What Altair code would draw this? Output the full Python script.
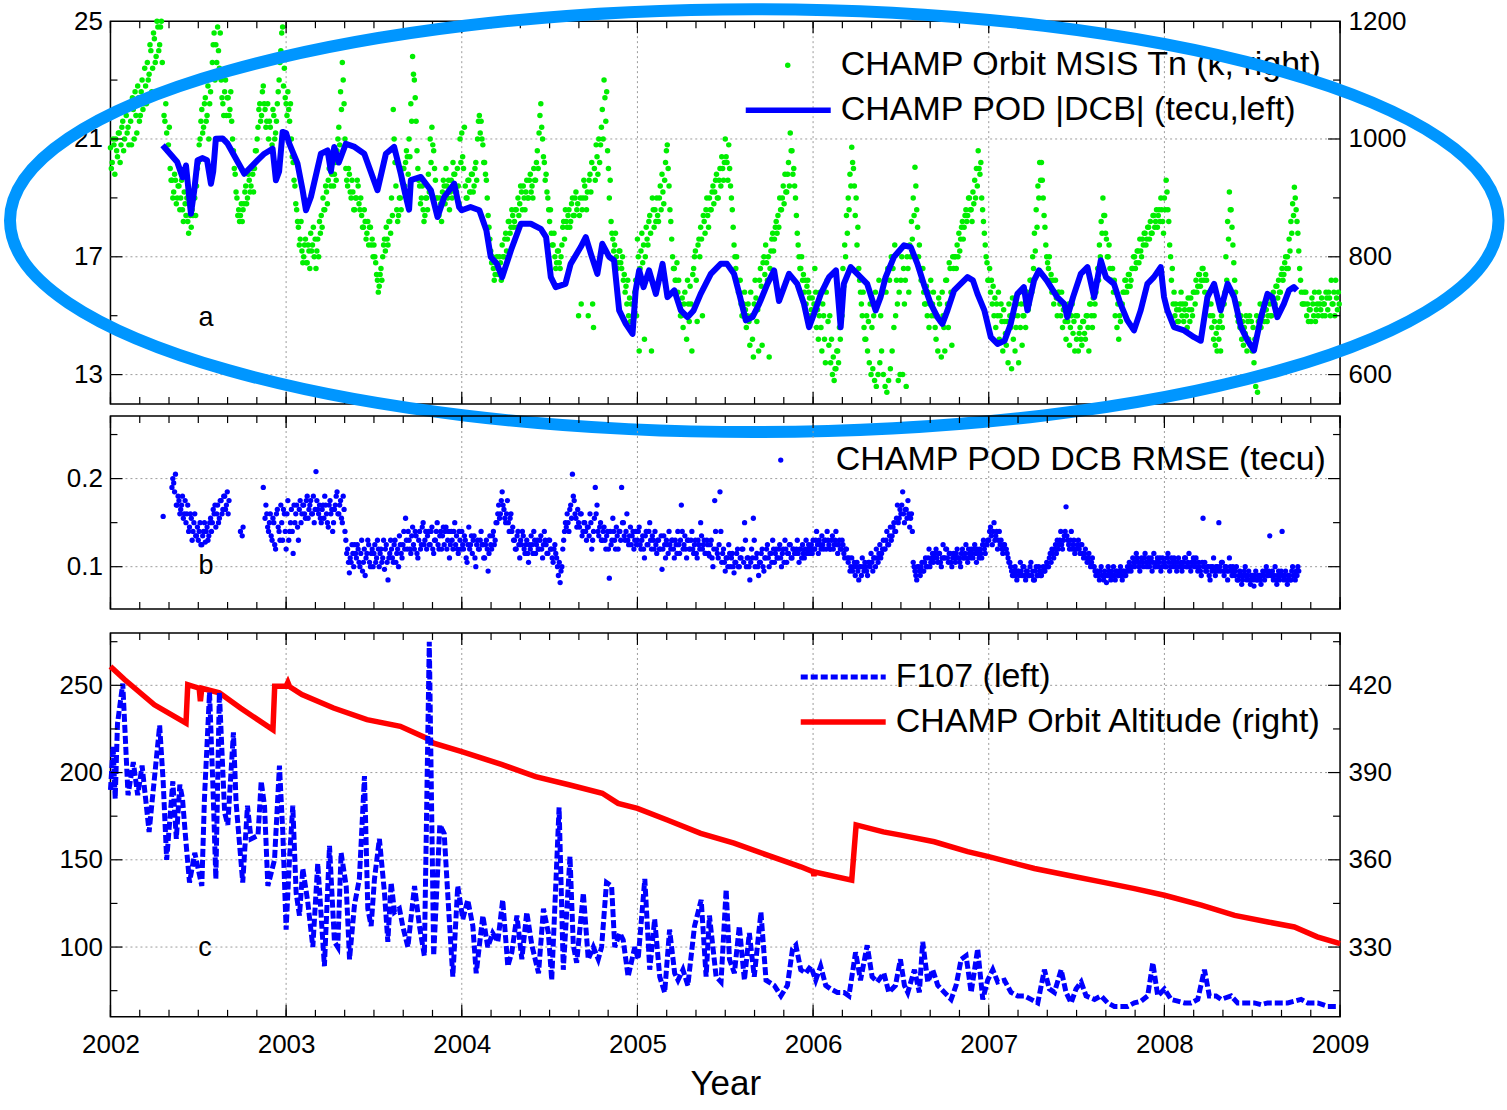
import altair as alt
import numpy as np
import pandas as pd

FONT = "Liberation Sans"
W = 1230
H_A, H_B, H_C = 383, 193, 384
GAP_BC = 12  # extra room below panel b

BLUE = "#0000ff"
GREEN = "#00ee00"
RED = "#ff0000"
RING = "#0096ff"
GRID = "#9b9b9b"

# ---------------------------------------------------------------- axes
YEARS = list(range(2002, 2010))
MONTH_TICKS = [round(2002 + k / 6, 4) for k in range(43)]  # bimonthly minor ticks

A_LEFT_DOMAIN = [12, 25]
A_LEFT_LABELS = [13, 17, 21, 25]
A_GRID = [13, 17, 21]
A_MINOR = [15, 19, 23]
A_RIGHT_DOMAIN = [550, 1200]
A_RIGHT_LABELS = [600, 800, 1000, 1200]

B_DOMAIN = [0.052, 0.271]
B_LABELS = [0.1, 0.2]
B_MINOR = [0.15, 0.25]

C_LEFT_DOMAIN = [60, 280]
C_LEFT_LABELS = [100, 150, 200, 250]
C_MINOR = [75, 125, 175, 225, 275]
C_RIGHT_DOMAIN = [306, 438]
C_RIGHT_LABELS = [330, 360, 390, 420]

# ---------------------------------------------------------------- panel a data
# MSIS neutral temperature along the CHAMP orbit (K): two samples per 0.01 yr step
# from 2002.0 (first sample at the step, second half a step later)
TN_START, TN_STEP = 2002.0, 0.01
TN_K = [
    985, 960, 990, 1000, 970, 1010, 990, 1030, 1000, 1040,
    1020, 1060, 990, 1050, 1080, 1010, 1070, 1040, 1100, 1060,
    1090, 1130, 1110, 1150, 1120, 1170, 1140, 1190, 1160, 1200,
    1080, 1030, 1010, 990, 950, 930, 910, 930, 900, 920,
    900, 880, 910, 870, 860, 890, 850, 870, 900, 920,
    960, 1000, 1050, 1020, 1070, 1040, 1000, 1080, 1130, 1180,
    1160, 1190, 1120, 1100, 1060, 1080, 1040, 1070, 1050, 1030,
    980, 940, 900, 880, 870, 860, 890, 920, 900, 930,
    920, 940, 950, 980, 1020, 1060, 1040, 1090, 1050, 1030,
    1000, 1020, 990, 1040, 1010, 1060, 1100, 1150, 1190, 1120,
    1060, 1080, 1030, 1000, 960, 920, 880, 850, 830, 810,
    800, 830, 790, 810, 840, 820, 800, 780, 830, 860,
    870, 900, 880, 910, 930, 950, 940, 920, 960, 980,
    1020, 1080, 1130, 1060, 950, 920, 940, 900, 910, 880,
    900, 920, 880, 870, 850, 860, 840, 820, 850, 830,
    820, 790, 760, 750, 780, 800, 830, 850, 820, 860,
    900, 1050, 960, 880, 870, 900, 930, 950, 960, 970,
    1000, 1060, 1140, 1100, 1030, 950, 920, 900, 880, 870,
    900, 940, 1000, 1020, 980, 930, 900, 870, 890, 910,
    920, 950, 900, 880, 930, 960, 940, 910, 920, 1000,
    1010, 950, 920, 900, 930, 910, 940, 920, 960, 1000,
    1040, 1030, 990, 960, 930, 870, 830, 790, 780, 770,
    800, 770, 790, 820, 800, 840, 830, 860, 850, 870,
    860, 880, 900, 890, 910, 920, 880, 930, 900, 940,
    920, 950, 930, 980, 1010, 1060, 1000, 960, 940, 900,
    860, 840, 820, 800, 790, 810, 780, 820, 860, 880,
    850, 880, 860, 900, 870, 910, 890, 870, 720, 900,
    920, 880, 700, 940, 960, 680, 930, 970, 1000, 990,
    1050, 1100, 1030, 980, 900, 860, 830, 820, 800, 790,
    810, 780, 760, 740, 720, 700, 690, 680, 720, 760,
    830, 640, 810, 790, 660, 850, 820, 870, 640, 880,
    880, 900, 860, 920, 940, 890, 960, 990, 920, 860,
    800, 780, 760, 740, 720, 700, 680, 740, 660, 720,
    750, 640, 780, 810, 690, 830, 850, 700, 860, 880,
    870, 900, 880, 920, 910, 940, 900, 950, 970, 930,
    1000, 960, 990, 920, 880, 820, 780, 760, 740, 720,
    700, 740, 680, 720, 650, 700, 630, 760, 690, 640,
    780, 650, 800, 820, 760, 630, 810, 840, 830, 860,
    870, 900, 880, 920, 940, 910, 960, 1010, 980, 950,
    900, 840, 800, 780, 760, 740, 720, 760, 730, 710,
    700, 780, 680, 660, 740, 640, 700, 620, 760, 650,
    620, 600, 590, 610, 640, 680, 720, 780, 820, 870,
    900, 940, 986, 950, 870, 820, 780, 740, 700, 680,
    660, 640, 620, 600, 610, 590, 580, 600, 620, 640,
    600, 580, 570, 590, 610, 640, 680, 700, 720, 740,
    760, 600, 720, 580, 780, 820, 860, 900, 952, 880,
    800, 780, 760, 740, 720, 700, 680, 760, 720, 700,
    660, 640, 720, 630, 700, 640, 760, 680, 780, 650,
    780, 800, 820, 840, 830, 860, 850, 880, 870, 900,
    880, 910, 930, 950, 980, 940, 900, 860, 820, 790,
    760, 740, 720, 700, 680, 700, 660, 720, 640, 690,
    650, 620, 700, 610, 660, 640, 720, 620, 680, 650,
    700, 680, 740, 720, 760, 800, 840, 880, 920, 960,
    960, 900, 850, 800, 780, 760, 740, 720, 760, 700,
    740, 700, 680, 720, 660, 690, 650, 700, 670, 640,
    660, 640, 680, 650, 690, 660, 700, 640, 720, 680,
    700, 740, 780, 820, 860, 900, 870, 830, 800, 780,
    760, 740, 700, 680, 660, 690, 720, 740, 760, 750,
    770, 760, 780, 800, 790, 810, 830, 800, 820, 840,
    830, 850, 860, 840, 870, 860, 850, 880, 900, 860,
    900, 930, 880, 820, 760, 720, 700, 710, 690, 720,
    700, 690, 720, 680, 710, 730, 700, 740, 760, 750,
    770, 760, 780, 740, 760, 720, 700, 680, 660, 650,
    640, 660, 640, 680, 720, 800, 860, 910, 880, 820,
    760, 720, 690, 680, 660, 650, 670, 640, 660, 650,
    640, 620, 580, 570, 600, 680, 700, 690, 710, 700,
    720, 700, 740, 720, 750, 760, 740, 780, 770, 800,
    800, 830, 860, 890, 918, 880, 840, 780, 740, 720,
    720, 700, 690, 710, 730, 700, 690, 720, 740, 710,
    700, 720, 740, 710, 730, 760, 720, 700, 730, 740,
]
TN_K_HALF = [
    950, 1000, 940, 980, 1010, 960, 1020, 980, 1050, 1010,
    990, 1030, 1070, 1000, 1040, 1090, 1030, 1080, 1050, 1120,
    1060, 1100, 1160, 1080, 1180, 1130, 1200, 1150, 1190, 1130,
    1040, 1060, 980, 1020, 930, 900, 940, 890, 920, 880,
    930, 860, 890, 900, 840, 870, 880, 900, 870, 950,
    990, 1030, 1010, 1060, 1030, 1090, 1060, 1110, 1160, 1100,
    1130, 1150, 1180, 1070, 1040, 1100, 1070, 1040, 1080, 1000,
    950, 910, 870, 860, 890, 880, 910, 890, 940, 910,
    950, 910, 980, 1000, 1050, 1030, 1080, 1060, 1020, 1060,
    1030, 980, 1050, 1000, 1030, 1080, 1130, 1180, 1090, 1070,
    1040, 1050, 1060, 970, 930, 890, 860, 820, 860, 790,
    820, 790, 820, 780, 810, 850, 830, 810, 800, 840,
    850, 880, 920, 890, 950, 920, 960, 940, 930, 1000,
    990, 1050, 1100, 1000, 930, 950, 910, 930, 880, 900,
    930, 890, 900, 850, 880, 830, 860, 850, 820, 800,
    800, 770, 740, 770, 760, 820, 810, 830, 860, 840,
    870, 1000, 920, 860, 900, 880, 950, 920, 980, 940,
    970, 1030, 1110, 1070, 980, 930, 890, 920, 860, 900,
    880, 910, 960, 990, 950, 900, 880, 900, 860, 930,
    890, 920, 930, 910, 900, 940, 910, 950, 890, 960,
    970, 1020, 900, 930, 910, 940, 910, 950, 930, 1030,
    1010, 1000, 960, 940, 900, 850, 810, 800, 760, 790,
    780, 800, 760, 800, 830, 810, 860, 840, 880, 850,
    880, 850, 870, 920, 880, 900, 910, 900, 930, 910,
    900, 930, 960, 950, 1040, 1020, 970, 930, 910, 880,
    880, 820, 840, 780, 810, 790, 800, 850, 830, 860,
    870, 850, 890, 870, 900, 880, 700, 900, 880, 930,
    900, 910, 930, 910, 720, 950, 990, 940, 960, 1020,
    1000, 1070, 1080, 950, 930, 840, 810, 840, 780, 810,
    790, 800, 770, 750, 760, 730, 720, 700, 740, 700,
    800, 780, 840, 820, 800, 830, 860, 840, 900, 850,
    860, 870, 900, 880, 910, 930, 980, 950, 880, 830,
    780, 760, 790, 760, 700, 730, 720, 700, 760, 690,
    720, 770, 800, 760, 820, 800, 830, 870, 840, 900,
    850, 880, 910, 890, 930, 900, 930, 920, 950, 960,
    970, 930, 950, 900, 850, 800, 800, 740, 760, 700,
    720, 710, 700, 690, 740, 660, 720, 730, 710, 760,
    750, 790, 770, 790, 800, 780, 830, 810, 850, 840,
    850, 880, 900, 890, 910, 940, 920, 980, 940, 920,
    870, 820, 780, 800, 770, 760, 750, 740, 700, 730,
    720, 740, 710, 700, 680, 720, 660, 740, 690, 700,
    660, 630, 610, 640, 620, 660, 700, 750, 800, 840,
    880, 920, 960, 920, 900, 850, 760, 720, 740, 660,
    700, 690, 720, 680, 700, 740, 720, 760, 700, 740,
    760, 740, 780, 760, 800, 780, 820, 760, 590, 600,
    800, 780, 760, 800, 740, 800, 830, 870, 920, 850,
    820, 760, 780, 720, 750, 740, 720, 700, 740, 680,
    700, 730, 690, 740, 680, 760, 720, 790, 740, 800,
    800, 780, 800, 810, 850, 830, 870, 860, 900, 880,
    860, 890, 900, 920, 950, 960, 880, 840, 800, 760,
    780, 760, 750, 730, 720, 740, 700, 690, 710, 670,
    690, 720, 680, 730, 700, 680, 700, 740, 720, 700,
    720, 740, 710, 760, 740, 780, 810, 850, 900, 930,
    930, 870, 820, 790, 800, 770, 760, 740, 730, 740,
    720, 740, 710, 690, 700, 720, 680, 720, 690, 700,
    700, 670, 660, 690, 670, 700, 680, 720, 700, 730,
    720, 760, 760, 800, 840, 870, 840, 800, 820, 760,
    780, 760, 740, 720, 700, 720, 740, 760, 740, 770,
    750, 780, 800, 780, 810, 790, 810, 830, 840, 820,
    850, 830, 840, 870, 850, 880, 870, 860, 880, 840,
    880, 910, 860, 800, 780, 740, 720, 690, 710, 740,
    720, 710, 700, 730, 690, 710, 740, 720, 740, 770,
    750, 780, 760, 770, 730, 740, 720, 700, 690, 670,
    680, 690, 700, 720, 740, 760, 830, 880, 850, 790,
    740, 700, 720, 700, 690, 680, 700, 690, 700, 690,
    680, 660, 700, 690, 720, 700, 720, 710, 690, 730,
    700, 730, 720, 750, 730, 740, 770, 760, 790, 780,
    780, 810, 840, 870, 900, 860, 810, 760, 720, 740,
    740, 720, 710, 690, 720, 740, 710, 700, 720, 730,
    720, 700, 730, 740, 700, 720, 740, 760, 710, 720,
]

# absolute differential code bias from CHAMP POD (TECU)
DCB_YEAR = [
    2002.297, 2002.38, 2002.41, 2002.43, 2002.458, 2002.477, 2002.496, 2002.525, 2002.55, 2002.572,
    2002.585, 2002.60, 2002.638, 2002.667, 2002.762, 2002.838, 2002.876, 2002.923, 2002.942, 2002.96,
    2002.98, 2003.0, 2003.018, 2003.065, 2003.094, 2003.113, 2003.141, 2003.198, 2003.236, 2003.255,
    2003.274, 2003.30, 2003.34, 2003.39, 2003.445, 2003.52, 2003.568, 2003.615, 2003.653, 2003.682,
    2003.70, 2003.71, 2003.767, 2003.824, 2003.862, 2003.90, 2003.957, 2003.985, 2004.0, 2004.05,
    2004.10, 2004.14, 2004.165, 2004.20, 2004.23, 2004.28, 2004.336, 2004.393, 2004.45, 2004.48,
    2004.507, 2004.535, 2004.59, 2004.62, 2004.677, 2004.706, 2004.735, 2004.772, 2004.80, 2004.84,
    2004.867, 2004.896, 2004.934, 2004.972, 2004.99, 2005.01, 2005.035, 2005.066, 2005.105, 2005.143,
    2005.171, 2005.21, 2005.247, 2005.285, 2005.32, 2005.36, 2005.418, 2005.474, 2005.51, 2005.55,
    2005.58, 2005.617, 2005.655, 2005.693, 2005.74, 2005.778, 2005.806, 2005.835, 2005.863, 2005.91,
    2005.948, 2005.977, 2006.005, 2006.044, 2006.091, 2006.13, 2006.157, 2006.175, 2006.214, 2006.27,
    2006.308, 2006.356, 2006.384, 2006.413, 2006.46, 2006.518, 2006.556, 2006.594, 2006.63, 2006.67,
    2006.708, 2006.736, 2006.765, 2006.803, 2006.84, 2006.879, 2006.91, 2006.936, 2006.975, 2007.012,
    2007.05, 2007.09, 2007.125, 2007.163, 2007.20, 2007.22, 2007.258, 2007.286, 2007.33, 2007.39,
    2007.43, 2007.447, 2007.48, 2007.524, 2007.562, 2007.60, 2007.638, 2007.667, 2007.713, 2007.75,
    2007.789, 2007.827, 2007.865, 2007.903, 2007.94, 2007.979, 2007.998, 2008.017, 2008.055, 2008.112,
    2008.169, 2008.207, 2008.245, 2008.283, 2008.32, 2008.36, 2008.397, 2008.436, 2008.473, 2008.51,
    2008.55, 2008.587, 2008.615, 2008.643, 2008.68, 2008.709, 2008.737, 2008.755,
]
DCB_TECU = [
    20.79, 20.22, 19.7, 20.1, 18.46, 19.26, 20.28, 20.35, 20.28, 19.48,
    19.9, 21.01, 21.02, 20.84, 19.82, 20.28, 20.5, 20.67, 19.6, 19.9,
    21.24, 21.2, 20.84, 20.16, 19.26, 18.58, 19.03, 20.5, 20.61, 19.9,
    20.73, 20.2, 20.84, 20.73, 20.5, 19.26, 20.5, 20.73, 19.82, 19.03,
    18.6, 19.6, 19.71, 19.26, 18.35, 19.03, 19.48, 18.69, 18.58, 18.69,
    18.58, 17.9, 16.99, 16.76, 16.31, 17.22, 18.12, 18.12, 17.95, 17.67,
    16.31, 15.97, 16.08, 16.76, 17.33, 17.67, 17.1, 16.42, 17.44, 16.99,
    16.88, 15.18, 14.72, 14.38, 15.86, 16.54, 15.97, 16.54, 15.74, 16.76,
    15.63, 15.86, 15.18, 14.95, 15.18, 15.74, 16.42, 16.76, 16.76, 16.42,
    15.74, 14.84, 14.95, 15.4, 16.08, 16.54, 15.5, 15.97, 16.42, 16.08,
    15.4, 14.61, 15.06, 15.74, 16.31, 16.54, 14.61, 16.08, 16.65, 16.31,
    16.08, 15.18, 15.63, 16.31, 16.99, 17.39, 17.33, 16.76, 16.08, 15.4,
    14.95, 14.72, 15.18, 15.86, 16.08, 16.31, 16.2, 15.74, 15.18, 14.27,
    14.04, 14.15, 14.72, 15.74, 15.97, 15.18, 16.2, 16.54, 16.2, 15.63,
    15.4, 14.95, 15.63, 16.42, 16.65, 15.63, 16.88, 16.31, 16.08, 15.4,
    14.84, 14.5, 15.18, 16.08, 16.31, 16.65, 15.63, 15.18, 14.61, 14.5,
    14.27, 14.15, 15.63, 16.08, 15.18, 16.08, 15.63, 14.61, 14.16, 13.82,
    14.95, 15.74, 15.63, 14.95, 15.4, 15.86, 15.97, 15.86,
]

# ---------------------------------------------------------------- panel b data
# DCB fit RMSE (TECU): two samples per 0.01 yr step from 2002.30 (None = no solution)
RMSE_START, RMSE_STEP = 2002.30, 0.01
RMSE_TECU = [
    0.157, None, None, None, None, 0.19, 0.195, 0.205, 0.17, 0.175,
    0.165, 0.18, 0.16, 0.15, 0.17, 0.145, 0.155, 0.14, 0.16, 0.135,
    0.13, 0.15, 0.125, 0.14, 0.128, 0.145, 0.135, 0.155, 0.15, 0.16,
    0.145, 0.17, 0.155, 0.175, 0.165, 0.18, 0.17, 0.16, None, None,
    None, None, None, None, 0.14, 0.135, None, None, None, None,
    None, None, None, None, None, None, None, 0.19, 0.155, 0.16,
    0.14, 0.16, 0.13, 0.15, 0.12, 0.165, 0.14, 0.17, 0.13, 0.16,
    0.12, 0.175, 0.14, 0.165, 0.115, 0.15, 0.17, 0.13, 0.175, 0.16,
    0.17, 0.155, 0.18, 0.165, 0.175, 0.16, 0.15, 0.208, 0.165, 0.17,
    0.15, 0.17, 0.18, 0.16, 0.145, 0.175, 0.165, 0.15, 0.17, 0.185,
    0.16, 0.175, 0.15, 0.165, 0.13, 0.12, 0.093, 0.105, 0.115, 0.125,
    0.11, 0.12, 0.1, 0.13, 0.105, 0.09, 0.115, 0.125, 0.1, 0.12,
    0.115, 0.105, 0.13, 0.1, 0.12, 0.11, 0.097, 0.125, 0.085, 0.115,
    0.12, 0.105, 0.13, 0.115, 0.1, 0.125, 0.11, 0.14, 0.155, 0.12,
    0.13, 0.115, 0.145, 0.12, 0.135, 0.11, 0.14, 0.125, 0.15, 0.13,
    0.12, 0.14, 0.125, 0.145, 0.115, 0.13, 0.15, 0.12, 0.14, 0.135,
    0.125, 0.145, 0.13, 0.11, 0.14, 0.12, 0.15, 0.135, 0.115, 0.13,
    0.14, 0.12, 0.13, 0.105, 0.145, 0.125, 0.115, 0.135, 0.1, 0.13,
    0.12, 0.14, 0.125, 0.11, 0.13, 0.095, 0.135, 0.12, 0.14, 0.13,
    0.15, 0.17, 0.16, 0.185, 0.165, 0.15, 0.175, 0.14, 0.16, 0.145,
    0.13, 0.12, 0.14, 0.11, 0.125, 0.135, 0.115, 0.13, 0.105, 0.12,
    0.125, 0.14, 0.115, 0.13, 0.12, 0.135, 0.11, 0.14, 0.125, 0.115,
    0.13, 0.12, 0.105, 0.125, 0.11, 0.09, 0.082, 0.1, 0.13, 0.15,
    0.16, 0.14, 0.17, 0.205, 0.175, 0.155, 0.165, 0.145, 0.16, 0.14,
    0.15, 0.13, 0.145, 0.16, 0.12, 0.14, 0.19, 0.17, 0.135, 0.15,
    0.13, 0.145, 0.12, 0.14, 0.087, 0.125, 0.155, 0.13, 0.145, 0.12,
    0.14, 0.19, 0.15, 0.13, 0.16, 0.125, 0.145, 0.135, 0.12, 0.14,
    0.13, 0.145, 0.12, 0.135, 0.11, 0.14, 0.125, 0.15, 0.12, 0.13,
    0.14, 0.115, 0.13, 0.12, 0.097, 0.135, 0.11, 0.125, 0.14, 0.12,
    0.13, 0.11, 0.125, 0.14, 0.115, 0.17, 0.12, 0.135, 0.11, 0.13,
    0.12, 0.14, 0.115, 0.13, 0.11, 0.125, 0.15, 0.12, 0.13, 0.115,
    0.125, 0.112, 0.13, 0.1, 0.175, 0.12, 0.11, 0.185, 0.105, 0.12,
    0.095, 0.11, 0.125, 0.1, 0.115, 0.093, 0.105, 0.12, 0.1, 0.11,
    0.12, 0.15, 0.1, 0.11, 0.085, 0.12, 0.155, 0.1, 0.115, 0.09,
    0.105, 0.12, 0.095, 0.11, 0.125, 0.1, 0.115, 0.13, 0.105, 0.12,
    0.11, 0.125, 0.1, 0.12, 0.13, 0.105, 0.115, 0.125, 0.11, 0.12,
    0.115, 0.13, 0.105, 0.12, 0.125, 0.11, 0.13, 0.12, 0.115, 0.125,
    0.13, 0.12, 0.14, 0.115, 0.125, 0.135, 0.12, 0.13, 0.14, 0.125,
    0.12, 0.135, 0.125, 0.14, 0.115, 0.13, 0.12, 0.125, 0.11, 0.12,
    0.105, 0.095, 0.11, 0.1, 0.09, 0.105, 0.085, 0.1, 0.11, 0.095,
    0.1, 0.09, 0.105, 0.115, 0.095, 0.11, 0.12, 0.105, 0.125, 0.115,
    0.13, 0.12, 0.14, 0.125, 0.145, 0.135, 0.15, 0.14, 0.17, 0.155,
    0.16, 0.185, 0.15, 0.165, 0.175, 0.145, 0.16, 0.105, 0.095, 0.085,
    0.1, 0.09, 0.105, 0.095, 0.11, 0.1, 0.12, 0.105, 0.115, 0.11,
    0.12, 0.105, 0.115, 0.1, 0.125, 0.11, 0.12, 0.105, 0.115, 0.1,
    0.115, 0.105, 0.12, 0.11, 0.1, 0.12, 0.11, 0.125, 0.105, 0.115,
    0.12, 0.11, 0.125, 0.105, 0.115, 0.12, 0.11, 0.13, 0.115, 0.125,
    0.13, 0.145, 0.125, 0.15, 0.135, 0.12, 0.14, 0.13, 0.115, 0.125,
    0.12, 0.11, 0.105, 0.095, 0.09, 0.1, 0.085, 0.095, 0.105, 0.09,
    0.1, 0.085, 0.095, 0.09, 0.105, 0.095, 0.085, 0.1, 0.09, 0.095,
    0.09, 0.1, 0.095, 0.105, 0.1, 0.115, 0.12, 0.11, 0.125, 0.13,
    0.125, 0.14, 0.12, 0.135, 0.168, 0.13, 0.12, 0.14, 0.125, 0.115,
    0.12, 0.13, 0.115, 0.125, 0.11, 0.12, 0.105, 0.115, 0.1, 0.11,
    0.1, 0.09, 0.095, 0.085, 0.1, 0.09, 0.095, 0.082, 0.1, 0.09,
    0.095, 0.1, 0.085, 0.095, 0.09, 0.1, 0.085, 0.095, 0.09, 0.1,
    0.105, 0.095, 0.11, 0.1, 0.115, 0.105, 0.095, 0.11, 0.1, 0.115,
    0.1, 0.11, 0.105, 0.095, 0.115, 0.1, 0.11, 0.105, 0.095, 0.11,
    0.105, 0.1, 0.115, 0.095, 0.11, 0.1, 0.105, 0.095, 0.11, 0.1,
    0.095, 0.105, 0.11, 0.1, 0.115, 0.095, 0.105, 0.1, 0.11, 0.095,
    0.1, 0.09, 0.155, 0.105, 0.095, 0.1, 0.085, 0.095, 0.11, 0.09,
    0.1, 0.15, 0.095, 0.105, 0.09, 0.1, 0.085, 0.11, 0.095, 0.1,
    0.09, 0.1, 0.085, 0.095, 0.08, 0.09, 0.1, 0.085, 0.095, 0.08,
    0.09, 0.078, 0.095, 0.085, 0.09, 0.08, 0.095, 0.085, 0.1, 0.09,
    0.135, 0.09, 0.085, 0.1, 0.08, 0.095, 0.09, 0.14, 0.085, 0.095,
    0.08, 0.09, 0.085, 0.1, 0.09, 0.095, 0.1,
]
RMSE_TECU_HALF = [
    None, None, None, None, None, 0.2, 0.185, 0.17, 0.18, 0.16,
    0.17, 0.155, 0.175, 0.16, 0.14, 0.16, 0.13, 0.15, 0.135, 0.145,
    0.14, 0.125, 0.135, 0.15, 0.14, 0.13, 0.15, 0.14, 0.165, 0.17,
    0.16, 0.15, 0.175, 0.16, 0.18, 0.165, 0.185, 0.175, None, None,
    None, None, None, None, None, 0.145, None, None, None, None,
    None, None, None, None, None, None, None, None, 0.17, 0.145,
    0.15, 0.135, 0.155, 0.125, 0.16, 0.145, 0.13, 0.15, 0.165, 0.14,
    0.16, 0.13, 0.15, 0.14, 0.17, 0.16, 0.145, 0.165, 0.15, 0.17,
    0.16, 0.175, 0.155, 0.17, 0.16, 0.18, 0.165, 0.175, 0.16, 0.155,
    0.165, 0.155, 0.17, 0.15, 0.17, 0.16, 0.14, 0.165, 0.18, 0.16,
    0.17, 0.155, 0.18, 0.14, 0.115, 0.105, 0.11, 0.125, 0.1, 0.115,
    0.125, 0.105, 0.115, 0.095, 0.12, 0.11, 0.13, 0.105, 0.115, 0.1,
    0.125, 0.11, 0.12, 0.115, 0.105, 0.13, 0.12, 0.105, 0.11, 0.13,
    0.11, 0.125, 0.105, 0.12, 0.135, 0.115, 0.125, 0.12, 0.13, 0.14,
    0.12, 0.135, 0.125, 0.14, 0.115, 0.13, 0.12, 0.145, 0.125, 0.14,
    0.135, 0.125, 0.14, 0.12, 0.13, 0.14, 0.125, 0.135, 0.12, 0.145,
    0.14, 0.12, 0.14, 0.125, 0.13, 0.14, 0.125, 0.12, 0.14, 0.12,
    0.125, 0.135, 0.11, 0.125, 0.12, 0.135, 0.13, 0.11, 0.125, 0.12,
    0.13, 0.125, 0.11, 0.125, 0.12, 0.115, 0.125, 0.135, 0.125, 0.15,
    0.16, 0.155, 0.175, 0.17, 0.155, 0.16, 0.15, 0.155, 0.14, 0.13,
    0.12, 0.135, 0.125, 0.13, 0.14, 0.12, 0.125, 0.115, 0.125, 0.135,
    0.115, 0.13, 0.125, 0.12, 0.13, 0.12, 0.125, 0.13, 0.115, 0.13,
    0.12, 0.11, 0.12, 0.115, 0.1, 0.105, 0.095, 0.12, 0.14, 0.145,
    0.15, 0.165, 0.155, 0.18, 0.16, 0.145, 0.15, 0.16, 0.135, 0.15,
    0.14, 0.145, 0.135, 0.15, 0.13, 0.155, 0.16, 0.14, 0.145, 0.13,
    0.14, 0.13, 0.135, 0.12, 0.14, 0.13, 0.14, 0.12, 0.135, 0.14,
    0.13, 0.15, 0.135, 0.14, 0.13, 0.135, 0.125, 0.14, 0.13, 0.125,
    0.14, 0.125, 0.13, 0.12, 0.135, 0.125, 0.14, 0.13, 0.135, 0.12,
    0.125, 0.13, 0.12, 0.135, 0.12, 0.125, 0.13, 0.115, 0.125, 0.13,
    0.12, 0.13, 0.115, 0.125, 0.13, 0.14, 0.125, 0.12, 0.13, 0.12,
    0.13, 0.12, 0.125, 0.115, 0.13, 0.12, 0.135, 0.125, 0.115, 0.13,
    0.115, 0.125, 0.11, 0.12, 0.14, 0.115, 0.125, 0.14, 0.115, 0.105,
    0.11, 0.1, 0.115, 0.11, 0.1, 0.105, 0.115, 0.1, 0.11, 0.12,
    0.105, 0.13, 0.11, 0.1, 0.105, 0.11, 0.13, 0.11, 0.1, 0.105,
    0.115, 0.1, 0.11, 0.12, 0.11, 0.115, 0.105, 0.12, 0.115, 0.11,
    0.12, 0.11, 0.115, 0.105, 0.12, 0.115, 0.125, 0.11, 0.12, 0.115,
    0.12, 0.115, 0.12, 0.11, 0.115, 0.12, 0.115, 0.125, 0.12, 0.115,
    0.12, 0.13, 0.125, 0.13, 0.12, 0.125, 0.13, 0.12, 0.13, 0.12,
    0.13, 0.12, 0.13, 0.125, 0.125, 0.12, 0.13, 0.115, 0.12, 0.11,
    0.11, 0.1, 0.095, 0.105, 0.1, 0.095, 0.1, 0.09, 0.1, 0.105,
    0.095, 0.105, 0.1, 0.105, 0.11, 0.1, 0.11, 0.115, 0.11, 0.12,
    0.12, 0.13, 0.125, 0.135, 0.13, 0.145, 0.14, 0.155, 0.15, 0.165,
    0.17, 0.16, 0.165, 0.155, 0.16, 0.155, 0.14, 0.1, 0.09, 0.1,
    0.095, 0.1, 0.095, 0.105, 0.1, 0.11, 0.1, 0.11, 0.105, 0.115,
    0.11, 0.115, 0.105, 0.11, 0.11, 0.12, 0.11, 0.115, 0.105, 0.11,
    0.11, 0.115, 0.11, 0.105, 0.115, 0.11, 0.115, 0.11, 0.12, 0.11,
    0.115, 0.12, 0.115, 0.12, 0.11, 0.115, 0.125, 0.12, 0.125, 0.13,
    0.14, 0.135, 0.14, 0.13, 0.14, 0.13, 0.125, 0.12, 0.125, 0.12,
    0.115, 0.105, 0.1, 0.09, 0.095, 0.09, 0.095, 0.09, 0.095, 0.1,
    0.09, 0.095, 0.09, 0.1, 0.09, 0.085, 0.095, 0.09, 0.1, 0.09,
    0.095, 0.095, 0.1, 0.1, 0.11, 0.105, 0.115, 0.12, 0.115, 0.12,
    0.13, 0.125, 0.13, 0.14, 0.135, 0.125, 0.13, 0.12, 0.13, 0.12,
    0.125, 0.12, 0.125, 0.115, 0.115, 0.11, 0.11, 0.105, 0.105, 0.1,
    0.095, 0.095, 0.09, 0.095, 0.09, 0.085, 0.09, 0.09, 0.095, 0.085,
    0.09, 0.09, 0.095, 0.09, 0.095, 0.09, 0.095, 0.09, 0.095, 0.095,
    0.1, 0.1, 0.105, 0.105, 0.11, 0.1, 0.105, 0.105, 0.11, 0.105,
    0.105, 0.1, 0.11, 0.105, 0.1, 0.105, 0.1, 0.11, 0.1, 0.105,
    0.1, 0.11, 0.105, 0.1, 0.105, 0.11, 0.1, 0.105, 0.1, 0.105,
    0.1, 0.11, 0.1, 0.105, 0.1, 0.105, 0.11, 0.105, 0.1, 0.105,
    0.095, 0.105, 0.1, 0.095, 0.1, 0.09, 0.1, 0.1, 0.095, 0.1,
    0.095, 0.1, 0.105, 0.095, 0.1, 0.095, 0.095, 0.1, 0.09, 0.095,
    0.095, 0.085, 0.09, 0.09, 0.085, 0.095, 0.09, 0.09, 0.085, 0.09,
    0.085, 0.09, 0.085, 0.09, 0.085, 0.09, 0.09, 0.095, 0.09, 0.095,
    0.09, 0.095, 0.09, 0.085, 0.09, 0.085, 0.095, 0.09, 0.09, 0.085,
    0.09, 0.085, 0.095, 0.09, 0.085, 0.09, 0.095,
]

# ---------------------------------------------------------------- panel c data
F107_YEAR = [
    2002.0, 2002.015, 2002.027, 2002.04, 2002.07, 2002.10, 2002.13, 2002.155, 2002.18, 2002.22,
    2002.28, 2002.30, 2002.32, 2002.355, 2002.375, 2002.395, 2002.41, 2002.43, 2002.45, 2002.48,
    2002.52, 2002.535, 2002.564, 2002.583, 2002.60, 2002.62, 2002.65, 2002.668, 2002.70, 2002.715,
    2002.753, 2002.78, 2002.80, 2002.84, 2002.858, 2002.877, 2002.896, 2002.934, 2002.962, 2002.981,
    2003.0, 2003.019, 2003.038, 2003.057, 2003.076, 2003.095, 2003.123, 2003.152, 2003.18, 2003.218,
    2003.247, 2003.275, 2003.294, 2003.313, 2003.342, 2003.361, 2003.389, 2003.417, 2003.446, 2003.465,
    2003.484, 2003.503, 2003.531, 2003.56, 2003.579, 2003.598, 2003.617, 2003.645, 2003.664, 2003.693,
    2003.731, 2003.759, 2003.787, 2003.815, 2003.84, 2003.875, 2003.90, 2003.925, 2003.949, 2003.977,
    2004.006, 2004.034, 2004.063, 2004.082, 2004.12, 2004.148, 2004.176, 2004.205, 2004.233, 2004.262,
    2004.285, 2004.314, 2004.342, 2004.370, 2004.399, 2004.437, 2004.465, 2004.493, 2004.512, 2004.554,
    2004.578, 2004.616, 2004.635, 2004.654, 2004.692, 2004.72, 2004.749, 2004.777, 2004.796, 2004.824,
    2004.853, 2004.871, 2004.90, 2004.919, 2004.947, 2004.985, 2005.004, 2005.042, 2005.07, 2005.098,
    2005.127, 2005.155, 2005.183, 2005.212, 2005.231, 2005.259, 2005.287, 2005.325, 2005.363, 2005.391,
    2005.41, 2005.448, 2005.476, 2005.505, 2005.524, 2005.552, 2005.58, 2005.609, 2005.637, 2005.665,
    2005.703, 2005.732, 2005.779, 2005.817, 2005.854, 2005.883, 2005.902, 2005.93, 2005.958, 2005.987,
    2006.015, 2006.043, 2006.072, 2006.10, 2006.138, 2006.176, 2006.204, 2006.242, 2006.27, 2006.308,
    2006.336, 2006.365, 2006.403, 2006.431, 2006.469, 2006.497, 2006.52, 2006.539, 2006.577, 2006.605,
    2006.624, 2006.653, 2006.681, 2006.71, 2006.748, 2006.786, 2006.814, 2006.843, 2006.871, 2006.90,
    2006.937, 2006.966, 2006.994, 2007.023, 2007.051, 2007.089, 2007.127, 2007.165, 2007.203, 2007.241,
    2007.279, 2007.317, 2007.345, 2007.374, 2007.412, 2007.44, 2007.469, 2007.497, 2007.526, 2007.554,
    2007.602, 2007.639, 2007.677, 2007.715, 2007.753, 2007.791, 2007.829, 2007.867, 2007.905, 2007.934,
    2007.962, 2008.0, 2008.038, 2008.076, 2008.114, 2008.152, 2008.19, 2008.228, 2008.256, 2008.294,
    2008.323, 2008.38, 2008.417, 2008.474, 2008.512, 2008.55, 2008.588, 2008.645, 2008.702, 2008.778,
    2008.816, 2008.873, 2008.93, 2008.987,
]
F107_SFU = [
    190, 215, 185, 228, 251, 187, 206, 187, 204, 166,
    227, 195, 150, 195, 162, 193, 185, 160, 137, 154,
    135, 185, 246, 193, 139, 246, 177, 170, 223, 183,
    137, 181, 162, 164, 195, 181, 135, 150, 204, 166,
    110, 150, 181, 131, 118, 145, 126, 100, 148, 89,
    158, 103, 100, 154, 135, 93, 124, 139, 198, 122,
    112, 139, 162, 131, 103, 137, 120, 122, 112, 100,
    135, 112, 95, 275, 95, 170, 165, 122, 83, 135,
    116, 127, 112, 85, 118, 100, 108, 103, 127, 89,
    97, 118, 93, 120, 101, 85, 122, 108, 81, 180,
    87, 152, 101, 91, 131, 93, 100, 93, 100, 137,
    135, 100, 108, 104, 83, 100, 93, 139, 87, 116,
    83, 74, 110, 85, 81, 87, 78, 112, 127, 83,
    118, 83, 80, 133, 93, 85, 112, 81, 108, 83,
    120, 81, 78, 72, 78, 99, 101, 87, 85, 89,
    81, 89, 78, 76, 74, 74, 72, 97, 81, 101,
    83, 80, 85, 74, 78, 93, 78, 74, 87, 74,
    103, 80, 87, 78, 74, 70, 78, 93, 95, 74,
    99, 70, 81, 87, 80, 81, 74, 72, 72, 70,
    68, 87, 76, 74, 87, 74, 68, 76, 80, 72,
    70, 72, 68, 66, 66, 66, 68, 69, 72, 91,
    72, 76, 70, 69, 68, 68, 70, 87, 72, 72,
    70, 72, 68, 68, 68, 67, 68, 68, 68, 70,
    68, 68, 66, 66,
]

ALT_YEAR = [
    2002.0, 2002.08, 2002.25, 2002.43, 2002.44, 2002.505, 2002.512, 2002.52, 2002.62, 2002.74,
    2002.925, 2002.935, 2003.0, 2003.01, 2003.02, 2003.09, 2003.27, 2003.46, 2003.65, 2003.80,
    2003.84, 2004.0, 2004.23, 2004.42, 2004.61, 2004.80, 2004.89, 2005.0, 2005.17, 2005.36,
    2005.55, 2005.74, 2005.93, 2006.0, 2006.005, 2006.01, 2006.22, 2006.245, 2006.40, 2006.5,
    2006.69, 2006.88, 2007.0, 2007.26, 2007.45, 2007.64, 2007.83, 2008.0, 2008.21, 2008.40,
    2008.59, 2008.74, 2008.87, 2009.0,
]
ALT_KM = [
    426.5, 422.0, 413.3, 407.0, 420.2, 419.0, 414.5, 419.0, 417.4, 412.2,
    404.7, 419.7, 419.7, 421.0, 419.5, 416.8, 412.2, 408.2, 405.9, 401.8,
    400.1, 397.2, 392.7, 388.6, 385.8, 382.9, 379.4, 377.7, 373.7, 369.1,
    365.7, 361.6, 357.6, 355.9, 354.5, 355.8, 353.0, 372.0, 369.6, 368.5,
    366.2, 362.8, 361.1, 357.0, 354.7, 352.4, 350.1, 347.8, 344.4, 340.9,
    338.6, 336.9, 333.5, 331.2,
]

# ---------------------------------------------------------------- frames
def sampled(start, step, first, second, name):
    t = start + step * np.arange(len(first))
    df = pd.concat([pd.DataFrame({"year": t, name: first}),
                    pd.DataFrame({"year": t + step / 2, name: second})])
    return df.dropna()


tn_df = sampled(TN_START, TN_STEP, TN_K, TN_K_HALF, "tn")
dcb_df = pd.DataFrame({"year": DCB_YEAR, "dcb": DCB_TECU})
rmse_df = sampled(RMSE_START, RMSE_STEP, RMSE_TECU, RMSE_TECU_HALF, "rmse")
f107_df = pd.DataFrame({"year": F107_YEAR, "f107": F107_SFU})
alt_df = pd.DataFrame({"year": ALT_YEAR, "alt": ALT_KM})
ONE = pd.DataFrame({"k": [0]})

xs = alt.Scale(domain=[2002, 2009], nice=False, zero=False)


def ysc(dom, rng=None):
    if rng is None:
        return alt.Scale(domain=dom, nice=False, zero=False)
    return alt.Scale(domain=dom, range=rng, nice=False, zero=False)


def grid_layers(h, ys, gy):
    rule = dict(color=GRID, strokeWidth=1, strokeDash=[2, 3])
    vx = alt.Chart(pd.DataFrame({"v": YEARS[1:-1]})).mark_rule(**rule).encode(
        x=alt.X("v:Q", scale=xs, axis=None), y=alt.value(0), y2=alt.value(h))
    hy = alt.Chart(pd.DataFrame({"v": gy})).mark_rule(**rule).encode(
        y=alt.Y("v:Q", scale=ys, axis=None), x=alt.value(0), x2=alt.value(W))
    return [vx, hy]


def tick_layers(h, ys, major_y, minor_y):
    out = []
    for vals, ln in ((MONTH_TICKS, 7), (YEARS, 12)):
        base = alt.Chart(pd.DataFrame({"v": vals})).mark_rule(color="black", strokeWidth=1.2)
        xe = alt.X("v:Q", scale=xs, axis=None)
        out.append(base.encode(x=xe, y=alt.value(h), y2=alt.value(h - ln)))
        out.append(base.encode(x=xe, y=alt.value(0), y2=alt.value(ln)))
    for vals, ln in ((minor_y, 7), (major_y, 12)):
        base = alt.Chart(pd.DataFrame({"v": vals})).mark_rule(color="black", strokeWidth=1.2)
        ye = alt.Y("v:Q", scale=ys, axis=None)
        out.append(base.encode(y=ye, x=alt.value(0), x2=alt.value(ln)))
        out.append(base.encode(y=ye, x=alt.value(W), x2=alt.value(W - ln)))
    return out


def label(text, x, y, size=34):
    return alt.Chart(ONE).mark_text(align="left", baseline="middle", font=FONT,
                                    fontSize=size, color="black").encode(
        x=alt.value(x), y=alt.value(y), text=alt.value(text))


def letter(text, x, y):
    return alt.Chart(ONE).mark_text(align="center", baseline="middle", font=FONT,
                                    fontSize=27, color="black").encode(
        x=alt.value(x), y=alt.value(y), text=alt.value(text))


def yaxis(orient, values, fmt="d"):
    return alt.Axis(orient=orient, values=values, format=fmt, ticks=False, domain=False,
                    grid=False, labelPadding=8, title=None)


INDEP = dict(x="independent", y="independent")

# ---------------------------------------------------------------- panel a
ya_l = ysc(A_LEFT_DOMAIN)
ya_r = ysc(A_RIGHT_DOMAIN)

tn_pts = alt.Chart(tn_df).mark_circle(size=30, color=GREEN, opacity=1).encode(
    x=alt.X("year:Q", scale=xs, axis=None),
    y=alt.Y("tn:Q", scale=ya_r, axis=yaxis("right", A_RIGHT_LABELS)))
dcb_line = alt.Chart(dcb_df).mark_line(color=BLUE, strokeWidth=6, strokeJoin="round").encode(
    x=alt.X("year:Q", scale=xs, axis=None),
    y=alt.Y("dcb:Q", scale=ya_l, axis=yaxis("left", A_LEFT_LABELS)))

leg_a = [
    alt.Chart(ONE).mark_circle(size=30, color=GREEN, opacity=1).encode(
        x=alt.value(677.5), y=alt.value(44)),
    label("CHAMP Orbit MSIS Tn (k, right)", 730.5, 44),
    alt.Chart(ONE).mark_rule(color=BLUE, strokeWidth=5.5).encode(
        x=alt.value(635.5), x2=alt.value(720.5), y=alt.value(89)),
    label("CHAMP POD |DCB| (tecu,left)", 730.5, 89),
]

# highlight ring drawn around the upper panel
RX, RY = 744.5, 211.5
ring_path = "M -1 0 A 1 {r:.4f} 0 1 0 1 0 A 1 {r:.4f} 0 1 0 -1 0 Z".format(r=RY / RX)
ring = alt.Chart(ONE).mark_point(shape=ring_path, size=(2 * RX) ** 2, filled=False,
                                 strokeWidth=12, color=RING, opacity=1).encode(
    x=alt.value(644), y=alt.value(199.5))

panel_a = alt.layer(
    *grid_layers(H_A, ya_l, A_GRID), tn_pts, dcb_line,
    *tick_layers(H_A, ya_l, A_GRID, A_MINOR),
    *leg_a, letter("a", 95.5, 297), ring,
).resolve_scale(**INDEP).properties(width=W, height=H_A)

# ---------------------------------------------------------------- panel b
# the view is GAP_BC taller than the framed box so the lower panel sits further down
yb = ysc(B_DOMAIN, [H_B, 0])
frame_b = alt.Chart(ONE).mark_rect(fillOpacity=0, stroke="black", strokeWidth=1.5).encode(
    x=alt.value(0), x2=alt.value(W), y=alt.value(0), y2=alt.value(H_B))
rmse_pts = alt.Chart(rmse_df).mark_circle(size=28, color=BLUE, opacity=1).encode(
    x=alt.X("year:Q", scale=xs, axis=None),
    y=alt.Y("rmse:Q", scale=yb, axis=yaxis("left", B_LABELS, ".1f")))
leg_b = [
    alt.Chart(ONE).mark_circle(size=28, color=BLUE, opacity=1).encode(
        x=alt.value(670.5), y=alt.value(44)),
    label("CHAMP POD DCB RMSE (tecu)", 725.5, 44),
]
panel_b = alt.layer(
    *grid_layers(H_B, yb, B_LABELS), rmse_pts,
    *tick_layers(H_B, yb, B_LABELS, B_MINOR),
    *leg_b, letter("b", 95.5, 150), frame_b,
).resolve_scale(**INDEP).properties(width=W, height=H_B + GAP_BC,
                                    view=alt.ViewBackground(stroke="transparent"))

# ---------------------------------------------------------------- panel c
yc_l = ysc(C_LEFT_DOMAIN)
yc_r = ysc(C_RIGHT_DOMAIN)

alt_line = alt.Chart(alt_df).mark_line(color=RED, strokeWidth=5.5).encode(
    x=alt.X("year:Q", scale=xs, axis=None),
    y=alt.Y("alt:Q", scale=yc_r, axis=yaxis("right", C_RIGHT_LABELS)))
f107_line = alt.Chart(f107_df).mark_line(color=BLUE, strokeWidth=5, strokeDash=[8, 3]).encode(
    x=alt.X("year:Q", scale=xs,
            axis=alt.Axis(orient="bottom", values=YEARS, format="d", labelFlush=False,
                          ticks=False, domain=False, grid=False, labelPadding=15,
                          title="Year", titleFontSize=35, titlePadding=9)),
    y=alt.Y("f107:Q", scale=yc_l, axis=yaxis("left", C_LEFT_LABELS)))
leg_c = [
    alt.Chart(ONE).mark_rule(color=BLUE, strokeWidth=5, strokeDash=[7, 3]).encode(
        x=alt.value(690.5), x2=alt.value(775.5), y=alt.value(44)),
    label("F107 (left)", 785.5, 44),
    alt.Chart(ONE).mark_rule(color=RED, strokeWidth=5.5).encode(
        x=alt.value(690.5), x2=alt.value(775.5), y=alt.value(89)),
    label("CHAMP Orbit Altitude (right)", 785.5, 89),
]
panel_c = alt.layer(
    *grid_layers(H_C, yc_l, C_LEFT_LABELS), alt_line, f107_line,
    *tick_layers(H_C, yc_l, C_LEFT_LABELS, C_MINOR),
    *leg_c, letter("c", 94.5, 315),
).resolve_scale(**INDEP).properties(width=W, height=H_C)

# ---------------------------------------------------------------- assemble
# the ring's stroke bounds reach past the page edge, so the outer padding pulls
# the layout back to put the framed panels at their intended place
chart = alt.vconcat(panel_a, panel_b, panel_c, spacing=12, bounds="flush").properties(
    padding={"left": -15.5, "top": -16, "right": -17, "bottom": 4},
    background="white",
).configure_view(
    stroke="black", strokeWidth=1.5
).configure_axis(
    labelFont=FONT, labelFontSize=26, labelColor="black",
    titleFont=FONT, titleColor="black", titleFontWeight="normal",
)

chart.save("out.html", embed_options={"renderer": "svg", "actions": False})
